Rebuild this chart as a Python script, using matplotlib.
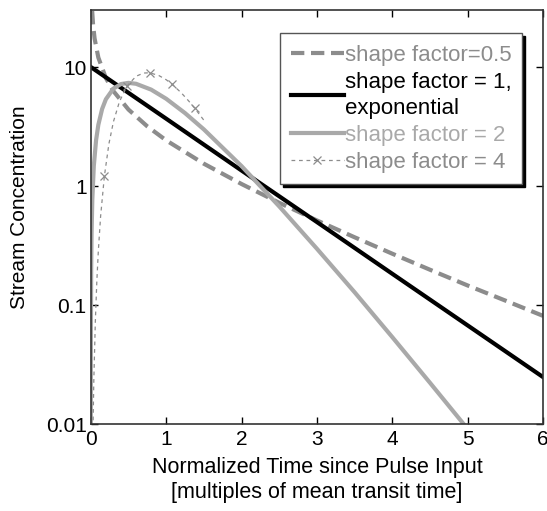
import numpy as np
import matplotlib
matplotlib.use("Agg")
import matplotlib.pyplot as plt

plt.rcParams['font.family'] = ['Liberation Sans', 'DejaVu Sans']

# shape factor 0.5
t_half = [0.018, 0.03, 0.05, 0.1, 0.2, 0.3, 0.5, 0.75, 1.0, 1.5, 2.0, 2.5, 3.0,
          3.5, 4.0, 4.5, 5.0, 5.5, 6.0]
c_half = [29.5, 22.7, 17.4, 12.0, 8.07, 6.27, 4.39, 3.17, 2.42, 1.54, 1.04, 0.723,
          0.514, 0.371, 0.270, 0.198, 0.146, 0.109, 0.0811]

# shape factor 1 (exponential)
t_one = [0, 1, 2, 3, 4, 5, 6]
c_one = [10.0, 3.68, 1.35, 0.498, 0.183, 0.0674, 0.0248]

# shape factor 2
t_two = [0.00025, 0.0005, 0.001, 0.002, 0.005, 0.01, 0.02, 0.04, 0.07, 0.1, 0.15,
         0.2, 0.3, 0.4, 0.5, 0.6, 0.8, 1.0, 1.25, 1.5, 2.0, 2.5, 3.0, 3.5, 4.0,
         4.5, 5.0]
c_two = [0.01, 0.02, 0.04, 0.0798, 0.198, 0.392, 0.769, 1.48, 2.43, 3.27, 4.44,
         5.36, 6.59, 7.19, 7.36, 7.23, 6.46, 5.41, 4.10, 2.99, 1.47, 0.674, 0.297,
         0.128, 0.0537, 0.0222, 0.00908]

# shape factor 4
t_four = [0.025, 0.03, 0.04, 0.06, 0.08, 0.1, 0.13, 0.18, 0.24, 0.3, 0.38, 0.48,
          0.6, 0.7, 0.78, 0.9, 1.0, 1.08, 1.2, 1.3, 1.38, 1.5]
c_four = [0.00603, 0.0102, 0.0233, 0.0725, 0.159, 0.286, 0.557, 1.21, 2.26, 3.47,
          5.12, 6.92, 8.36, 8.90, 8.94, 8.50, 7.82, 7.15, 6.07, 5.17, 4.49, 3.57]
t_marks = [0.18, 0.48, 0.78, 1.08, 1.38]

x_ticks = [0, 1, 2, 3, 4, 5, 6]
y_ticks = [0.01, 0.1, 1, 10]
y_labels = ['0.01', '0.1', '1', '10']

fig = plt.figure(figsize=(5.47, 5.11), dpi=100)
ax = fig.add_axes([0.166, 0.170, 0.827, 0.810])

ax.plot(t_half, c_half, color='#8c8c8c', lw=3, dashes=(3.2, 1.6),
        label='shape factor=0.5')
ax.plot(t_one, c_one, color='black', lw=3,
        label='shape factor = 1,\nexponential')
ax.plot(t_two, c_two, color='#a9a9a9', lw=3, label='shape factor = 2')
mark_idx = [t_four.index(t) for t in t_marks]
ax.plot(t_four, c_four, color='#8c8c8c', lw=0.9, dashes=(3, 3), marker='x',
        markersize=6, markeredgewidth=0.9, markevery=mark_idx,
        label='shape factor = 4')

ax.set_yscale('log')
ax.set_xlim(0, 6)
ax.set_ylim(0.01, 30)
ax.set_xticks(x_ticks)
ax.set_yticks(y_ticks)
ax.set_yticklabels(y_labels)
ax.minorticks_off()
ax.tick_params(direction='in', length=5, top=True, right=True, labelsize=15,
               width=1)
ax.tick_params(axis='x', pad=4)
ax.tick_params(axis='y', pad=3)
for s in ax.spines.values():
    s.set_linewidth(1.2)
    s.set_color('#333333')

ax.set_xlabel('Normalized Time since Pulse Input\n[multiples of mean transit time]',
              fontsize=15.5, labelpad=6, linespacing=1.25)
ax.set_ylabel('Stream Concentration', fontsize=15, labelpad=8)
ax.yaxis.set_label_coords(-0.137, 0.524)

leg = ax.legend(loc='upper right', bbox_to_anchor=(0.954, 0.944), fontsize=16,
                frameon=True, fancybox=False, shadow={'color': 'black', 'alpha': 1},
                handlelength=2.35, handletextpad=0.05, borderpad=0.5,
                labelspacing=0.28, borderaxespad=0)
leg.get_frame().set_edgecolor('#555555')
leg.get_frame().set_linewidth(1)
text_colors = ['#8c8c8c', 'black', '#a9a9a9', '#8c8c8c']
for txt, col in zip(leg.get_texts(), text_colors):
    txt.set_color(col)
    txt.set_linespacing(1.3)

fig.savefig('out.png', dpi=100)
